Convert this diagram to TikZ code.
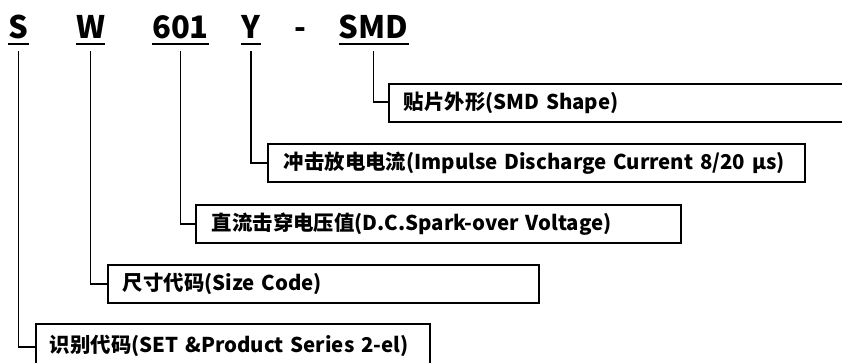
\documentclass[tikz,border=0pt]{standalone}
\usepackage{fontspec}
\setmainfont{Noto Sans CJK SC}
\usetikzlibrary{positioning}
\tikzset{
  code/.style={font=\fontsize{31}{31}\selectfont\bfseries,anchor=base,
    inner sep=0pt},
  uline/.style={line width=1.6pt},
  field/.style={rectangle,draw,line width=1.6pt,anchor=north west,
    minimum height=38pt,inner xsep=15pt,inner ysep=0pt,align=left,
    font=\fontsize{20.4}{21}\selectfont\bfseries},
  lead/.style={line width=1.6pt}
}

\begin{document}
\begin{tikzpicture}[x=1pt,y=-1pt]
\useasboundingbox (0,0) rectangle (842,362);
% ---------------- part number ----------------
\node[code] (S) at (18.5,38) {S};
\node[code] (W) at (90.5,38) {W};
\node[code] (N) at (180.5,38) {601};
\node[code] (Y) at (251,38) {Y};
\node[code] (D) at (300,38) {-};
\node[code] (M) at (373.5,38) {SMD};
\foreach \c in {S,W,N,Y,M}
  \draw[uline] ([yshift=-6pt]\c.base west) -- ([yshift=-6pt]\c.base east);
% ---------------- fields ----------------
\node[field,minimum width=460pt,text width=430pt] (b1) at (388,83)
  {贴片外形(SMD Shape)};
\node[field,minimum width=537pt,text width=505pt,inner xsep=16pt] (b2) at (267,143)
  {\mbox{冲击放电电流(Impulse Discharge Current 8/20 μs)}};
\node[field,minimum width=485pt,text width=453pt,inner xsep=16pt] (b3) at (195,204)
  {直流击穿电压值(D.C.Spark-over Voltage)};
\node[field,minimum width=431pt,text width=401pt] (b4) at (107,264)
  {尺寸代码(Size Code)};
\node[field,minimum width=394pt,text width=366pt,inner xsep=14pt,
  minimum height=44pt] (b5) at (35,323)
  {识别代码(SET \&Product Series 2-el)};
% ---------------- leads ----------------
\draw[lead] ([yshift=-13pt]M.base) |- ([yshift=1pt]b1.west);
\draw[lead] ([yshift=-13pt]Y.base) |- (b2.west);
\draw[lead] ([yshift=-13pt]N.base) |- (b3.west);
\draw[lead] ([yshift=-13pt]W.base) |- (b4.west);
\draw[lead] ([yshift=-13pt]S.base) |- ([yshift=-1pt]b5.west);
\end{tikzpicture}
\end{document}
